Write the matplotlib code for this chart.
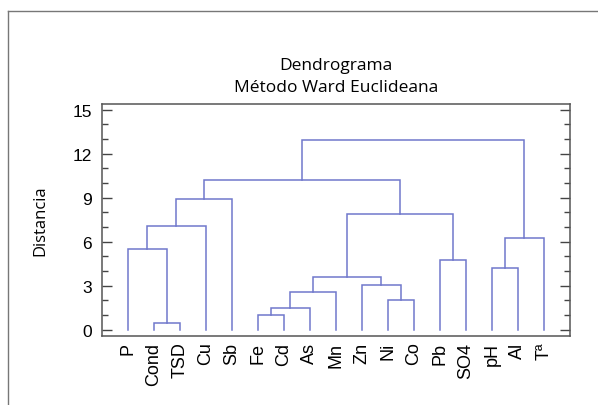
import matplotlib
matplotlib.use("Agg")
import matplotlib.pyplot as plt
from matplotlib.lines import Line2D
from matplotlib.ticker import MultipleLocator

# leaf labels in the order they appear on the x axis
labels = ["P", "Cond", "TSD", "Cu", "Sb", "Fe", "Cd", "As", "Mn",
          "Zn", "Ni", "Co", "Pb", "SO4", "pH", "Al", "Tª"]

# merges: node ids (leaves 0..16, new clusters from 17 on) and distance
merge_a = [1, 5, 18, 10, 19, 9, 21, 14, 12, 0, 24, 26, 23, 28, 30, 31]
merge_b = [2, 6, 7, 11, 8, 20, 22, 15, 13, 17, 16, 3, 25, 4, 29, 27]
merge_h = [0.48, 1.0, 1.5, 2.05, 2.55, 3.07, 3.61, 4.18, 4.77,
           5.50, 6.25, 7.07, 7.91, 8.91, 10.18, 12.95]

line_col = "#7078cc"

fig = plt.figure(figsize=(5.98, 4.06), dpi=100)
ax = fig.add_axes([0.170, 0.170, 0.783, 0.572])

# node positions: leaves sit at 1..n, clusters at midpoint of children
xpos = {i: i + 1 for i in range(len(labels))}
ypos = {i: 0.0 for i in range(len(labels))}
for k, (a, b, h) in enumerate(zip(merge_a, merge_b, merge_h)):
    node = len(labels) + k
    xa, xb = xpos[a], xpos[b]
    ax.plot([xa, xa, xb, xb], [ypos[a], h, h, ypos[b]],
            color=line_col, lw=1.1, solid_joinstyle="miter")
    xpos[node] = (xa + xb) / 2
    ypos[node] = h

ax.set_xlim(0, len(labels) + 1)
ax.set_ylim(-0.43, 15.4)
ax.set_xticks(range(1, len(labels) + 1))
ax.set_xticklabels(labels, rotation=90, fontsize=13, family="Liberation Sans")
ax.tick_params(axis="x", length=0, pad=4)

ax.yaxis.set_major_locator(MultipleLocator(3))
ax.yaxis.set_minor_locator(MultipleLocator(1))
ax.tick_params(axis="y", which="both", direction="in", left=True, right=True,
               color="#444444", labelsize=12.5, pad=7)
ax.tick_params(axis="y", which="major", length=7, width=1)
ax.tick_params(axis="y", which="minor", length=4, width=1)
for t in ax.get_yticklabels():
    t.set_family("Liberation Sans")

for s in ax.spines.values():
    s.set_color("#555555")
    s.set_linewidth(1.1)

ax.set_ylabel("Distancia", fontsize=12, family="Open Sans", labelpad=17)
ax.set_title("Dendrograma\nMétodo Ward Euclideana", fontsize=12.5,
             family="Open Sans", pad=9, linespacing=1.55)

# outer frame (only left and top edges visible)
fig.add_artist(Line2D([8 / 598, 8 / 598], [0, 1 - 12 / 406],
                      transform=fig.transFigure, color="#777777", lw=1))
fig.add_artist(Line2D([8 / 598, 1], [1 - 12 / 406, 1 - 12 / 406],
                      transform=fig.transFigure, color="#777777", lw=1))

fig.savefig("out.png", dpi=100)
